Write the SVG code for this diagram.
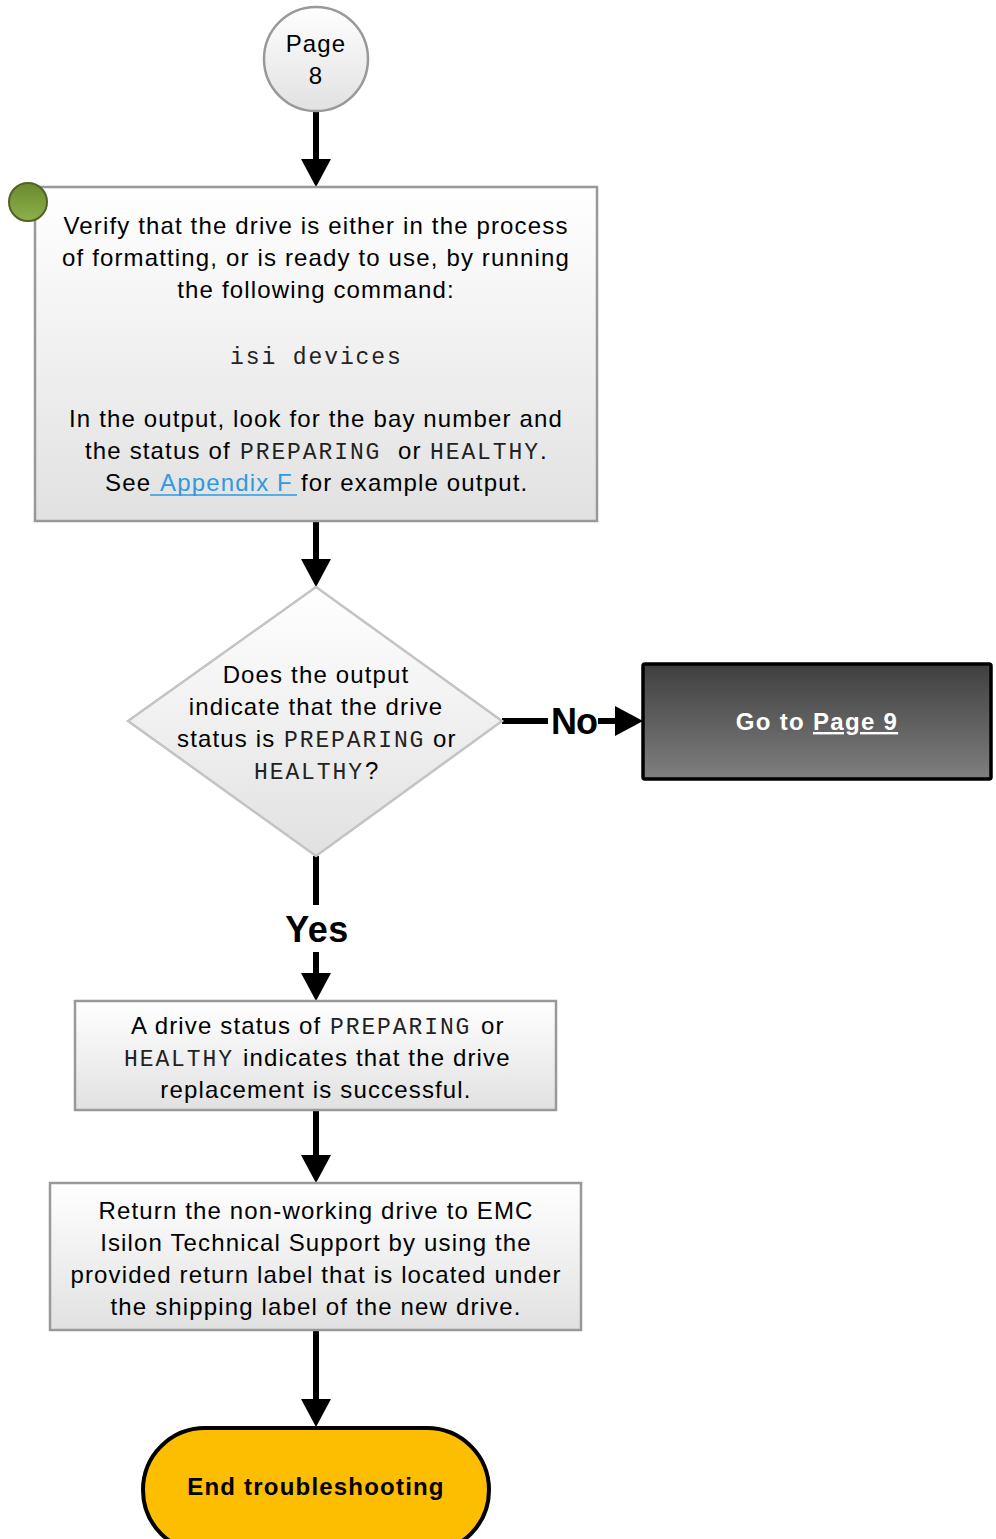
<svg xmlns="http://www.w3.org/2000/svg" width="996" height="1539" viewBox="0 0 996 1539">
  <defs>
    <linearGradient id="gradPale" x1="0" y1="0" x2="0" y2="1">
      <stop offset="0" stop-color="#ffffff"/>
      <stop offset="1" stop-color="#e1e1e1"/>
    </linearGradient>
    <linearGradient id="gradDark" x1="0" y1="0" x2="0" y2="1">
      <stop offset="0" stop-color="#3f3f3f"/>
      <stop offset="1" stop-color="#7f7f7f"/>
    </linearGradient>
    <linearGradient id="gradGreen" x1="0" y1="0" x2="0" y2="1">
      <stop offset="0" stop-color="#6a8a2c"/>
      <stop offset="1" stop-color="#8db04a"/>
    </linearGradient>
    <marker id="head" markerUnits="userSpaceOnUse" markerWidth="28" markerHeight="30" refX="8" refY="15" orient="auto">
      <path d="M0,0 L28,15 L0,30 z" fill="#000"/>
    </marker>
    <style>
      .sans { font-family: "Liberation Sans", Arial, sans-serif; font-size: 24px; letter-spacing: 1.15px; fill: #000; }
      .mono { font-family: "Liberation Mono", "Courier New", monospace; font-size: 23px; letter-spacing: 1.9px; fill: #222; }
      .bold { font-family: "Liberation Sans", Arial, sans-serif; font-weight: bold; }
      .box { fill: url(#gradPale); stroke: #999; stroke-width: 2.5; }
      .edge { fill: none; stroke: #000; stroke-width: 6; }
      .link { fill: #2e9ae0; }
    </style>
  </defs>

  <!-- connectors -->
  <g id="connectors">
    <line class="edge" x1="316" y1="112" x2="316" y2="167" marker-end="url(#head)"/>
    <line class="edge" x1="316" y1="521" x2="316" y2="567" marker-end="url(#head)"/>
    <line class="edge" x1="502" y1="721" x2="548" y2="721"/>
    <line class="edge" x1="598" y1="721" x2="623" y2="721" marker-end="url(#head)"/>
    <text class="bold" x="574" y="734" font-size="36" text-anchor="middle" letter-spacing="-1">No</text>
    <line class="edge" x1="316" y1="856" x2="316" y2="905"/>
    <line class="edge" x1="316" y1="952" x2="316" y2="981" marker-end="url(#head)"/>
    <text class="bold" x="317" y="942" font-size="36" text-anchor="middle" letter-spacing="0.5">Yes</text>
    <line class="edge" x1="316" y1="1110" x2="316" y2="1163" marker-end="url(#head)"/>
    <line class="edge" x1="316" y1="1330" x2="316" y2="1407" marker-end="url(#head)"/>
  </g>

  <!-- off-page start -->
  <g id="page8">
    <ellipse cx="316" cy="59" rx="52" ry="52" fill="url(#gradPale)" stroke="#999" stroke-width="2.5"/>
    <text class="sans" x="316" y="52" text-anchor="middle">Page</text>
    <text class="sans" x="316" y="84" text-anchor="middle">8</text>
  </g>

  <!-- verification step -->
  <g id="verify">
    <rect class="box" x="35" y="187" width="562" height="334"/>
    <circle cx="28" cy="202" r="19" fill="url(#gradGreen)" stroke="#4f6228" stroke-width="2"/>
    <text class="sans" x="316" y="234" text-anchor="middle">Verify that the drive is either in the process</text>
    <text class="sans" x="316" y="266" text-anchor="middle">of formatting, or is ready to use, by running</text>
    <text class="sans" x="316" y="298" text-anchor="middle">the following command:</text>
    <text class="mono" x="230" y="364">isi devices</text>
    <text class="sans" x="316" y="427" text-anchor="middle">In the output, look for the bay number and</text>
    <text class="sans" x="85" y="459">the status of</text>
    <text class="mono" x="240" y="459">PREPARING</text>
    <text class="sans" x="398" y="459">or</text>
    <text class="mono" x="430" y="459">HEALTHY</text>
    <text class="sans" x="540" y="459">.</text>
    <text class="sans" x="105" y="491">See</text>
    <text class="sans link" x="160" y="491">Appendix F</text>
    <line x1="150" y1="495" x2="297" y2="495" stroke="#2e9ae0" stroke-width="1.5"/>
    <text class="sans" x="301" y="491">for example output.</text>
  </g>

  <!-- decision -->
  <g id="decision">
    <polygon points="316,587 502,721 316,856 128,721" fill="url(#gradPale)" stroke="#c3c3c3" stroke-width="2.5"/>
    <text class="sans" x="316" y="683" text-anchor="middle">Does the output</text>
    <text class="sans" x="316" y="715" text-anchor="middle">indicate that the drive</text>
    <text class="sans" x="177" y="747">status is</text>
    <text class="mono" x="284" y="747">PREPARING</text>
    <text class="sans" x="433" y="747">or</text>
    <text class="mono" x="254" y="779">HEALTHY</text>
    <text class="sans" x="365" y="779">?</text>
  </g>

  <!-- off-page exit -->
  <g id="page9">
    <rect x="643" y="664" width="348" height="115" rx="2" fill="url(#gradDark)" stroke="#000" stroke-width="3.5"/>
    <text class="bold" x="817" y="730" font-size="24" letter-spacing="1.3" fill="#fff" text-anchor="middle">Go to <tspan text-decoration="underline">Page 9</tspan></text>
  </g>

  <!-- success note -->
  <g id="success">
    <rect class="box" x="75" y="1001" width="481" height="109"/>
    <text class="sans" x="131" y="1034">A drive status of</text>
    <text class="mono" x="330" y="1034">PREPARING</text>
    <text class="sans" x="481" y="1034">or</text>
    <text class="mono" x="124" y="1066">HEALTHY</text>
    <text class="sans" x="243" y="1066">indicates that the drive</text>
    <text class="sans" x="316" y="1098" text-anchor="middle">replacement is successful.</text>
  </g>

  <!-- return step -->
  <g id="return">
    <rect class="box" x="50" y="1183" width="531" height="147"/>
    <text class="sans" x="316" y="1219" text-anchor="middle">Return the non-working drive to EMC</text>
    <text class="sans" x="316" y="1251" text-anchor="middle">Isilon Technical Support by using the</text>
    <text class="sans" x="316" y="1283" text-anchor="middle">provided return label that is located under</text>
    <text class="sans" x="316" y="1315" text-anchor="middle">the shipping label of the new drive.</text>
  </g>

  <!-- terminator -->
  <g id="end">
    <rect x="143" y="1428" width="346" height="124" rx="62" fill="#fdbd00" stroke="#000" stroke-width="4"/>
    <text class="bold" x="316" y="1495" font-size="24" letter-spacing="1.2" text-anchor="middle">End troubleshooting</text>
  </g>
</svg>
